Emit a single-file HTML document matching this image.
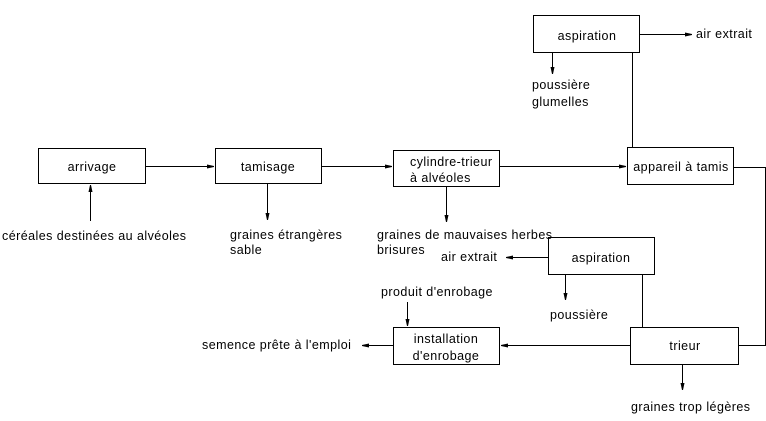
<!DOCTYPE html>
<html><head><meta charset="utf-8"><style>
html,body{margin:0;padding:0;background:#fff;}
svg{display:block;}
text{font-family:"Liberation Sans",sans-serif;font-size:12.5px;letter-spacing:0.45px;fill:#000;}
</style></head><body>
<svg width="766" height="421" xmlns="http://www.w3.org/2000/svg">
<g fill="#fff" stroke="#000" stroke-width="1">
<rect x="38.5" y="148.5" width="107" height="35"/>
<rect x="215.5" y="148.5" width="106" height="35"/>
<rect x="393.5" y="150.5" width="106" height="36"/>
<rect x="627.5" y="147.5" width="106" height="37"/>
<rect x="533.5" y="15.5" width="106" height="37"/>
<rect x="548.5" y="237.5" width="106" height="37"/>
<rect x="630.5" y="327.5" width="108" height="37"/>
<rect x="393.5" y="327.5" width="106" height="37"/>
</g>
<g stroke="#000" stroke-width="1" fill="none">
<line x1="146" y1="166.5" x2="214" y2="166.5"/>
<line x1="322" y1="166.5" x2="392" y2="166.5"/>
<line x1="500" y1="166.5" x2="626" y2="166.5"/>
<polyline points="734,167.5 765.5,167.5 765.5,345.5 739,345.5"/>
<line x1="632.5" y1="147" x2="632.5" y2="53"/>
<line x1="640" y1="34.5" x2="692" y2="34.5"/>
<line x1="552.5" y1="53" x2="552.5" y2="74"/>
<line x1="90.5" y1="221" x2="90.5" y2="185"/>
<line x1="267.5" y1="184" x2="267.5" y2="220"/>
<line x1="446.5" y1="187" x2="446.5" y2="222"/>
<line x1="630" y1="345.5" x2="501" y2="345.5"/>
<line x1="642.5" y1="275" x2="642.5" y2="327"/>
<line x1="548" y1="257.5" x2="506" y2="257.5"/>
<line x1="565.5" y1="275" x2="565.5" y2="300"/>
<line x1="407.5" y1="302" x2="407.5" y2="326"/>
<line x1="393" y1="345.5" x2="362" y2="345.5"/>
<line x1="682.5" y1="365" x2="682.5" y2="390"/>
</g>
<g fill="#000">
<polygon points="207,164.5 214,166 214,167 207,168.5"/>
<polygon points="385,164.5 392,166 392,167 385,168.5"/>
<polygon points="619,164.5 626,166 626,167 619,168.5"/>
<polygon points="685,32.5 692,34 692,35 685,36.5"/>
<polygon points="550.5,67 554.5,67 553,74 552,74"/>
<polygon points="88.5,192 92.5,192 91,185 90,185"/>
<polygon points="265.5,213 269.5,213 268,220 267,220"/>
<polygon points="444.5,215 448.5,215 447,222 446,222"/>
<polygon points="508,343.5 501,345 501,346 508,347.5"/>
<polygon points="513,255.5 506,257 506,258 513,259.5"/>
<polygon points="563.5,293 567.5,293 566,300 565,300"/>
<polygon points="405.5,319 409.5,319 408,326 407,326"/>
<polygon points="369,343.5 362,345 362,346 369,347.5"/>
<polygon points="680.5,383 684.5,383 683,390 682,390"/>
</g>
<text x="92" y="171" text-anchor="middle">arrivage</text>
<text x="268" y="171" text-anchor="middle">tamisage</text>
<text x="410" y="166">cylindre-trieur</text>
<text x="410" y="182">à alvéoles</text>
<text x="681" y="171" text-anchor="middle">appareil à tamis</text>
<text x="587" y="40" text-anchor="middle">aspiration</text>
<text x="601" y="262" text-anchor="middle">aspiration</text>
<text x="685" y="350" text-anchor="middle">trieur</text>
<text x="446" y="343" text-anchor="middle">installation</text>
<text x="446" y="360" text-anchor="middle">d'enrobage</text>
<text x="696" y="38">air extrait</text>
<text x="532" y="89">poussière</text>
<text x="532" y="106">glumelles</text>
<text x="2" y="240">céréales destinées au alvéoles</text>
<text x="230" y="239">graines étrangères</text>
<text x="230" y="254">sable</text>
<text x="377" y="239">graines de mauvaises herbes</text>
<text x="377" y="254">brisures</text>
<text x="441" y="261">air extrait</text>
<text x="550" y="319">poussière</text>
<text x="381" y="296">produit d'enrobage</text>
<text x="202" y="349">semence prête à l'emploi</text>
<text x="631" y="411">graines trop légères</text>
</svg>
</body></html>
